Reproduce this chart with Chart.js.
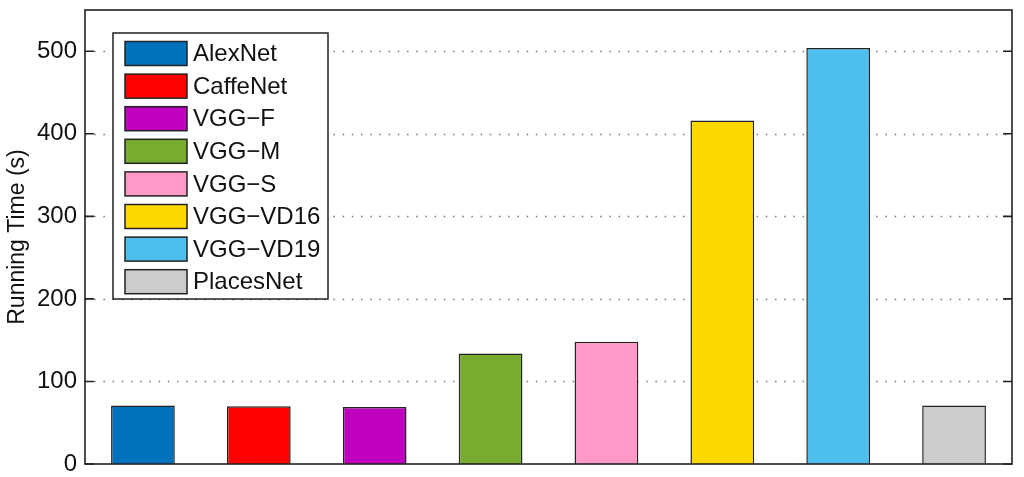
<!DOCTYPE html>
<html>
<head>
<meta charset="utf-8">
<script src="https://cdn.jsdelivr.net/npm/chart.js@4/dist/chart.umd.min.js"></script>
<style>
    html, body { margin: 0; padding: 0; background: #fff; }
    #wrap { width: 1024px; height: 477px; }
</style>
</head>
<body>
<div id="wrap"><canvas id="bar-chart" width="1024" height="477"></canvas></div>
<script>
// values
const networks = ['AlexNet', 'CaffeNet', 'VGG-F', 'VGG-M', 'VGG-S', 'VGG-VD16', 'VGG-VD19', 'PlacesNet'];
const runningTimes = [71, 70, 69, 134, 148, 416, 504, 71];
const barColors = ['#0072BD', '#FF0000', '#BF00BF', '#77AC30', '#FF99C8', '#FFD800', '#4DBEEE', '#CCCCCC'];
const yTicks = [0, 100, 200, 300, 400, 500];

const fontFamily = '"Liberation Sans", Arial, Helvetica, sans-serif';

// dotted grid lines behind the bars, frame and inner ticks on top
const framePlugin = {
    id: 'frame',
    beforeDatasetsDraw(chart) {
        const ctx = chart.ctx;
        const area = chart.chartArea;
        const y = chart.scales.y;
        ctx.save();
        ctx.strokeStyle = '#777';
        ctx.lineWidth = 1.5;
        ctx.setLineDash([1.5, 7.7]);
        for (let i = 0; i < yTicks.length; i++) {
            if (yTicks[i] === 0) continue;
            let py = Math.round(y.getPixelForValue(yTicks[i])) + 0.5;
            ctx.beginPath();
            ctx.moveTo(area.left, py);
            ctx.lineTo(area.right, py);
            ctx.stroke();
        }
        ctx.restore();
    },
    afterDatasetsDraw(chart) {
        const ctx = chart.ctx;
        const area = chart.chartArea;
        const y = chart.scales.y;
        ctx.save();
        ctx.strokeStyle = '#222';
        ctx.lineWidth = 1.6;
        ctx.strokeRect(area.left, area.top, area.right - area.left, area.bottom - area.top);
        for (let i = 0; i < yTicks.length; i++) {
            let py = y.getPixelForValue(yTicks[i]);
            ctx.beginPath();
            ctx.moveTo(area.left, py);
            ctx.lineTo(area.left + 9, py);
            ctx.moveTo(area.right, py);
            ctx.lineTo(area.right - 9, py);
            ctx.stroke();
        }
        ctx.restore();
    }
};

// legend box drawn inside the plot, like the original
const legendPlugin = {
    id: 'innerLegend',
    afterDraw(chart) {
        const ctx = chart.ctx;
        const area = chart.chartArea;
        let boxLeft = area.left + 28;
        let boxTop = area.top + 23;
        let boxWidth = 215;
        let rowHeight = 32.6;
        let boxHeight = 266;
        ctx.save();
        ctx.fillStyle = '#fff';
        ctx.fillRect(boxLeft, boxTop, boxWidth, boxHeight);
        ctx.strokeStyle = '#222';
        ctx.lineWidth = 1.5;
        ctx.strokeRect(boxLeft, boxTop, boxWidth, boxHeight);
        ctx.font = '24px ' + fontFamily;
        ctx.textBaseline = 'middle';
        for (let i = 0; i < networks.length; i++) {
            let sy = boxTop + 8.5 + i * rowHeight;
            ctx.fillStyle = barColors[i];
            ctx.fillRect(boxLeft + 12, sy, 62, 24);
            ctx.strokeRect(boxLeft + 12, sy, 62, 24);
            ctx.fillStyle = '#111';
            ctx.fillText(networks[i].replace('-', '\u2212'), boxLeft + 80, sy + 13);
        }
        ctx.restore();
    }
};

let data = {
    labels: networks,
    datasets: [
        {
            label: 'Running Time',
            data: runningTimes,
            backgroundColor: barColors,
            borderColor: '#222',
            borderWidth: 1.5,
            categoryPercentage: 1.0,
            barPercentage: 0.55,
        },
    ]
};

let config = {
    type: 'bar',
    data: data,
    options: {
        responsive: false,
        animation: false,
        layout: { padding: { top: 10, right: 12, bottom: 13, left: 0 } },
        plugins: {
            legend: { display: false },
            tooltip: { enabled: false },
        },
        scales: {
            x: {
                display: false,
                offset: true,
            },
            y: {
                min: 0,
                max: 550,
                afterBuildTicks: (scale) => { scale.ticks = yTicks.map(v => ({ value: v })); },
                afterFit: (scale) => {
                    scale.width = 85;
                    scale.paddingTop = 0;
                    scale.paddingBottom = 0;
                },
                grid: { display: false, drawTicks: false },
                border: { display: false },
                ticks: {
                    padding: 8,
                    color: '#111',
                    font: { family: fontFamily, size: 24 },
                },
                title: {
                    display: true,
                    text: 'Running Time (s)',
                    color: '#111',
                    padding: { top: 4, bottom: 0 },
                    font: { family: fontFamily, size: 23 },
                },
            },
        },
    },
    plugins: [framePlugin, legendPlugin],
};

let ctx = document.getElementById('bar-chart').getContext('2d');
window.myBar = new Chart(ctx, config);
</script>
</body>
</html>
